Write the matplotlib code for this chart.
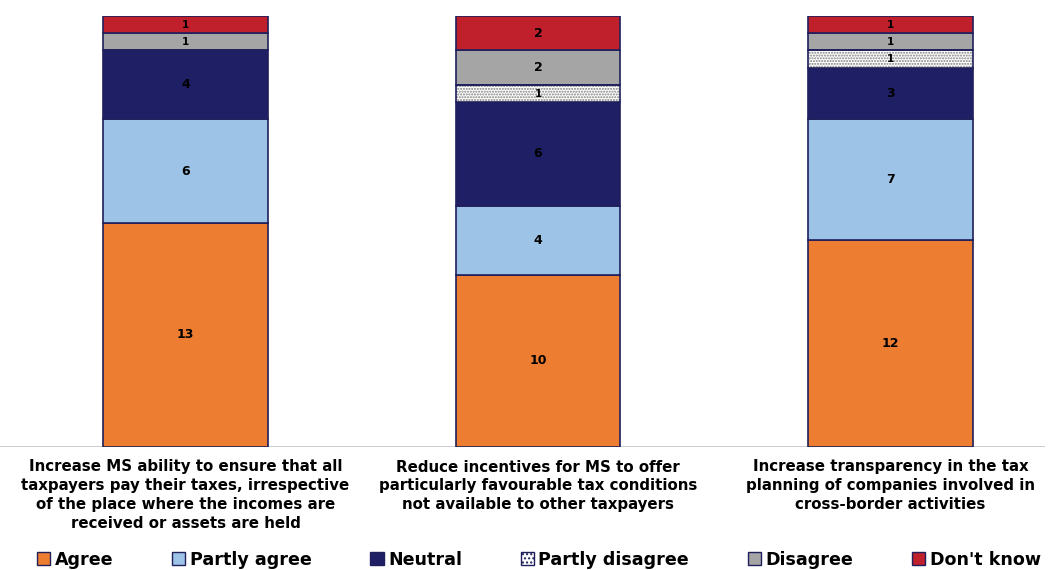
import numpy as np
import matplotlib
matplotlib.use("Agg")
import matplotlib.pyplot as plt
from matplotlib.patches import Patch

# datos
categorias = [
    "Increase MS ability to ensure that all\ntaxpayers pay their taxes, irrespective\nof the place where the incomes are\nreceived or assets are held",
    "Reduce incentives for MS to offer\nparticularly favourable tax conditions\nnot available to other taxpayers",
    "Increase transparency in the tax\nplanning of companies involved in\ncross-border activities",
]
series = ["Agree", "Partly agree", "Neutral", "Partly disagree", "Disagree", "Don't know"]
agree = [13, 10, 12]
partly_agree = [6, 4, 7]
neutral = [4, 6, 3]
partly_disagree = [0, 1, 1]
disagree = [1, 2, 1]
dont_know = [1, 2, 1]

valores = [agree, partly_agree, neutral, partly_disagree, disagree, dont_know]
colores = ["#ED7D31", "#9DC3E6", "#1F1F66", "white", "#A5A5A5", "#C0202C"]
borde = "#1F1F5C"

plt.rcParams['font.family'] = ['DejaVu Sans']
fig = plt.figure(figsize=(10.53, 5.70), dpi=100)
ax = fig.add_axes([0, 123 / 570, 1045 / 1053, 431 / 570])

x = np.arange(len(categorias))
ancho = 0.468
base = np.zeros(len(categorias))
for i, (nombre, vals) in enumerate(zip(series, valores)):
    vals = np.array(vals, dtype=float)
    if nombre == "Partly disagree":
        # trama punteada gris, luego el borde
        ax.bar(x, vals, ancho, bottom=base, color="white", edgecolor="#7F7F7F",
               hatch="......", linewidth=0, zorder=2)
        ax.bar(x, vals, ancho, bottom=base, fill=False, edgecolor=borde,
               linewidth=1.2, zorder=3)
    else:
        ax.bar(x, vals, ancho, bottom=base, color=colores[i], edgecolor=borde,
               linewidth=1.2, zorder=2)
    for xi, v, b in zip(x, vals, base):
        if v > 0:
            fs = 9 if v > 1 else 7.5
            ax.text(xi, b + v / 2, f"{int(v)}", ha="center", va="center",
                    fontsize=fs, fontweight="bold", color="black", zorder=4)
    base += vals

ax.set_xlim(-185.5 / 352.5, (1045 - 185.5) / 352.5)
ax.set_ylim(0, 25)
for s in ax.spines.values():
    s.set_visible(False)
ax.axhline(0, color="#BFBFBF", lw=1.8, zorder=1)
ax.set_yticks([])
ax.set_xticks(x)
ax.set_xticklabels(categorias, fontsize=10.8, fontweight="bold", linespacing=1.32)
ax.tick_params(axis="x", length=0, pad=9)

handles = []
for i, nombre in enumerate(series):
    if nombre == "Partly disagree":
        handles.append(Patch(facecolor="white", edgecolor=borde, hatch="....", label=nombre))
    else:
        handles.append(Patch(facecolor=colores[i], edgecolor=borde, label=nombre))
fig.legend(handles=handles, loc="center", bbox_to_anchor=(539 / 1053, 10 / 570), ncol=6,
           frameon=False, handlelength=0.75, handleheight=0.75, handletextpad=0.25,
           columnspacing=3.37, prop={"size": 12.6, "weight": "bold"})

fig.savefig("out.png", dpi=100)
